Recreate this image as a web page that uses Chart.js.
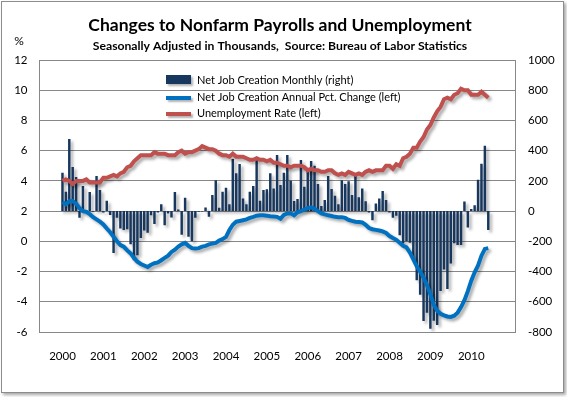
<!DOCTYPE html>
<html>
<head>
<meta charset="utf-8">
<script src="https://cdn.jsdelivr.net/npm/chart.js@4.4.0/dist/chart.umd.min.js"></script>
<style>
body { margin: 0; background: #fff; }
#frame { position: absolute; left: 1px; top: 1px; width: 561px; height: 390px; border: 1px solid #8c8c8c; box-shadow: 2px 2px 3px rgba(0,0,0,0.35); background: #fff; }
#chart { position: absolute; left: 0; top: 0; }
</style>
</head>
<body>
<div id="frame"></div>
<canvas id="chart" width="567" height="397"></canvas>
<script>
// year labels on the x axis (one tick each January)
const years = [2000, 2001, 2002, 2003, 2004, 2005, 2006, 2007, 2008, 2009, 2010];

// monthly net job creation, thousands (Jan 2000 - Jun 2010), right axis
const netJobs = [
    254, 128, 477, 292, 225, -44, 166, 5, 126, -5, 232, 139,
    -10, 68, -26, -278, -44, -115, -125, -120, -220, -325, -292, -178,
    -129, -144, -27, -86, -10, 46, -93, -15, -42, 126, 11, -156,
    88, -170, -200, -44, -5, -3, 24, -38, 106, 205, 22, 128,
    155, 46, 345, 250, 312, 84, 46, 128, 166, 338, 68, 139,
    144, 250, 150, 371, 173, 254, 371, 201, 67, 80, 338, 161,
    272, 332, 300, 179, 33, 73, 232, 146, 102, 46, 205, 179,
    198, 106, 232, 91, 150, 66, -9, -60, 51, 84, 133, 73,
    -10, -44, -31, -160, -215, -200, -210, -330, -458, -554, -728, -673,
    -779, -726, -753, -528, -387, -515, -346, -212, -225, -224, 64, -109,
    14, 39, 208, 313, 432, -125
];

// annual pct change of payrolls, left axis
const annualPct = [
    2.6, 2.45, 2.65, 2.67, 2.5, 2.2, 2.0, 1.95, 1.8, 1.6, 1.45, 1.3,
    1.12, 0.85, 0.6, 0.3, 0.0, -0.25, -0.35, -0.6, -0.8, -1.1, -1.35, -1.5,
    -1.6, -1.7, -1.55, -1.45, -1.4, -1.25, -1.1, -0.95, -0.7, -0.55, -0.35, -0.2,
    -0.1, -0.3, -0.45, -0.48, -0.45, -0.35, -0.3, -0.2, -0.15, -0.1, 0.05, 0.15,
    0.3, 0.75, 1.1, 1.3, 1.35, 1.4, 1.45, 1.55, 1.62, 1.7, 1.72, 1.72,
    1.7, 1.66, 1.65, 1.62, 1.5, 1.75, 1.85, 1.85, 1.72, 1.92, 2.0, 2.1,
    2.2, 2.25, 2.15, 2.0, 1.85, 1.78, 1.72, 1.68, 1.62, 1.6, 1.6, 1.55,
    1.42, 1.35, 1.3, 1.28, 1.25, 1.1, 0.88, 0.8, 0.76, 0.72, 0.66, 0.55,
    0.35, 0.22, 0.1, -0.1, -0.3, -0.4, -0.75, -1.2, -1.65, -2.0, -2.4, -2.9,
    -3.5, -4.2, -4.6, -4.8, -4.9, -4.97, -5.0, -4.92, -4.72, -4.35, -3.9, -3.3,
    -2.6, -2.05, -1.6, -0.95, -0.5, -0.45
];

// unemployment rate, left axis
const unemployment = [
    4.0, 4.1, 4.0, 3.8, 4.0, 4.0, 4.0, 4.1, 3.9, 3.9, 3.9, 3.9,
    4.2, 4.2, 4.3, 4.4, 4.3, 4.5, 4.6, 4.9, 5.0, 5.3, 5.5, 5.7,
    5.7, 5.7, 5.7, 5.9, 5.8, 5.8, 5.8, 5.7, 5.7, 5.7, 5.9, 6.0,
    5.8, 5.9, 5.9, 6.0, 6.1, 6.3, 6.2, 6.1, 6.1, 6.0, 5.8, 5.7,
    5.7, 5.6, 5.8, 5.6, 5.6, 5.6, 5.5, 5.4, 5.4, 5.5, 5.4, 5.4,
    5.3, 5.4, 5.2, 5.2, 5.1, 5.0, 5.0, 4.9, 5.0, 5.0, 5.0, 4.9,
    4.7, 4.8, 4.7, 4.7, 4.6, 4.6, 4.7, 4.7, 4.5, 4.4, 4.5, 4.4,
    4.6, 4.5, 4.4, 4.5, 4.4, 4.6, 4.7, 4.6, 4.7, 4.7, 4.7, 5.0,
    5.0, 4.8, 5.1, 5.0, 5.5, 5.6, 5.8, 6.2, 6.2, 6.6, 6.9, 7.4,
    7.7, 8.2, 8.6, 8.9, 9.4, 9.5, 9.4, 9.7, 9.8, 10.1, 10.0, 10.0,
    9.7, 9.7, 9.7, 9.9, 9.7, 9.5
];

const seriesNames = [
    'Net Job Creation Monthly (right)',
    'Net Job Creation Annual Pct. Change (left)',
    'Unemployment Rate (left)'
];

function toPoints(values) {
    return values.map(function (v, i) { return { x: i, y: v }; });
}

const FONT = 'Lato, "Open Sans", sans-serif';
const gridGray = '#878787';

// soft drop shadow under bars and lines, like the office chart
const shadowPlugin = {
    id: 'shadow',
    beforeDatasetsDraw(chart) {
        const ctx = chart.ctx;
        ctx.save();
        ctx.shadowColor = 'rgba(0,0,0,0.33)';
        ctx.shadowBlur = 3;
        ctx.shadowOffsetX = 2.5;
        ctx.shadowOffsetY = 2.5;
    },
    afterDatasetsDraw(chart) {
        chart.ctx.restore();
    }
};

// title, subtitle, % label and the legend inside the plot
const decorPlugin = {
    id: 'decor',
    afterDraw(chart) {
        const ctx = chart.ctx;
        ctx.save();
        ctx.fillStyle = '#000';
        ctx.textAlign = 'center';
        ctx.textBaseline = 'middle';
        ctx.font = 'bold 17.5px ' + FONT;
        ctx.fillText('Changes to Nonfarm Payrolls and Unemployment', 280, 25);
        ctx.font = 'bold 12.2px ' + FONT;
        ctx.fillText('Seasonally Adjusted in Thousands,  Source: Bureau of Labor Statistics', 280, 46);
        ctx.font = '12px ' + FONT;
        ctx.fillText('%', 19, 41);

        const rows = [80, 97, 113];
        const ds = chart.data.datasets;
        ctx.shadowColor = 'rgba(0,0,0,0.3)';
        ctx.shadowBlur = 2;
        ctx.shadowOffsetX = 2;
        ctx.shadowOffsetY = 2;
        ds.forEach(function (d, i) {
            const y = rows[i];
            if (d.type === 'bar') {
                ctx.fillStyle = d.backgroundColor;
                ctx.fillRect(166, y - 5, 25, 9);
            } else {
                ctx.strokeStyle = d.borderColor;
                ctx.lineWidth = 4;
                ctx.beginPath();
                ctx.moveTo(166, y + 1);
                ctx.lineTo(191, y + 1);
                ctx.stroke();
            }
        });
        ctx.shadowColor = 'transparent';
        ctx.fillStyle = '#000';
        ctx.textAlign = 'left';
        ctx.font = '11px ' + FONT;
        ds.forEach(function (d, i) {
            ctx.fillText(d.label, 197, rows[i]);
        });
        ctx.restore();
    }
};

const ctx = document.getElementById('chart').getContext('2d');
const chart = new Chart(ctx, {
    data: {
        datasets: [{
            type: 'bar',
            label: seriesNames[0],
            data: toPoints(netJobs),
            yAxisID: 'y1',
            backgroundColor: '#17375E',
            barPercentage: 0.9,
            categoryPercentage: 0.8,
            order: 3
        }, {
            type: 'line',
            label: seriesNames[1],
            data: toPoints(annualPct),
            yAxisID: 'y',
            borderColor: '#0070C0',
            borderWidth: 4,
            pointRadius: 0,
            tension: 0,
            order: 2
        }, {
            type: 'line',
            label: seriesNames[2],
            data: toPoints(unemployment),
            yAxisID: 'y',
            borderColor: '#C0504D',
            borderWidth: 4,
            pointRadius: 0,
            tension: 0,
            order: 1
        }]
    },
    options: {
        responsive: false,
        animation: false,
        events: [],
        layout: { padding: { top: 60, bottom: 0, left: 0, right: 0 } },
        plugins: {
            legend: { display: false },
            tooltip: { enabled: false }
        },
        scales: {
            x: {
                type: 'linear',
                min: -0.4,
                max: 126.5,
                grid: { display: false, drawTicks: false },
                border: { display: false },
                afterBuildTicks: function (axis) {
                    axis.ticks = years.map(function (y) { return { value: (y - years[0]) * 12 }; });
                },
                afterFit: function (axis) { axis.height = 65; },
                ticks: {
                    autoSkip: false,
                    maxRotation: 0,
                    padding: 17,
                    color: '#000',
                    font: { family: FONT, size: 11.5 },
                    callback: function (v) { return String(years[0] + v / 12); }
                }
            },
            y: {
                position: 'left',
                min: -6,
                max: 12,
                ticks: { stepSize: 2, padding: 12, color: '#000', font: { family: FONT, size: 11.5 } },
                grid: { color: gridGray, lineWidth: 1, drawTicks: false },
                border: { display: true, color: gridGray, width: 1 },
                afterFit: function (axis) { axis.width = 39.5; }
            },
            y1: {
                position: 'right',
                min: -800,
                max: 1000,
                ticks: {
                    stepSize: 200, padding: 13, color: '#000', font: { family: FONT, size: 11.5 },
                    callback: function (v) { return String(v); }
                },
                grid: { display: false, drawTicks: false },
                border: { display: true, color: gridGray, width: 1 },
                afterFit: function (axis) { axis.width = 52; }
            }
        }
    },
    plugins: [shadowPlugin, decorPlugin]
});
</script>
</body>
</html>
